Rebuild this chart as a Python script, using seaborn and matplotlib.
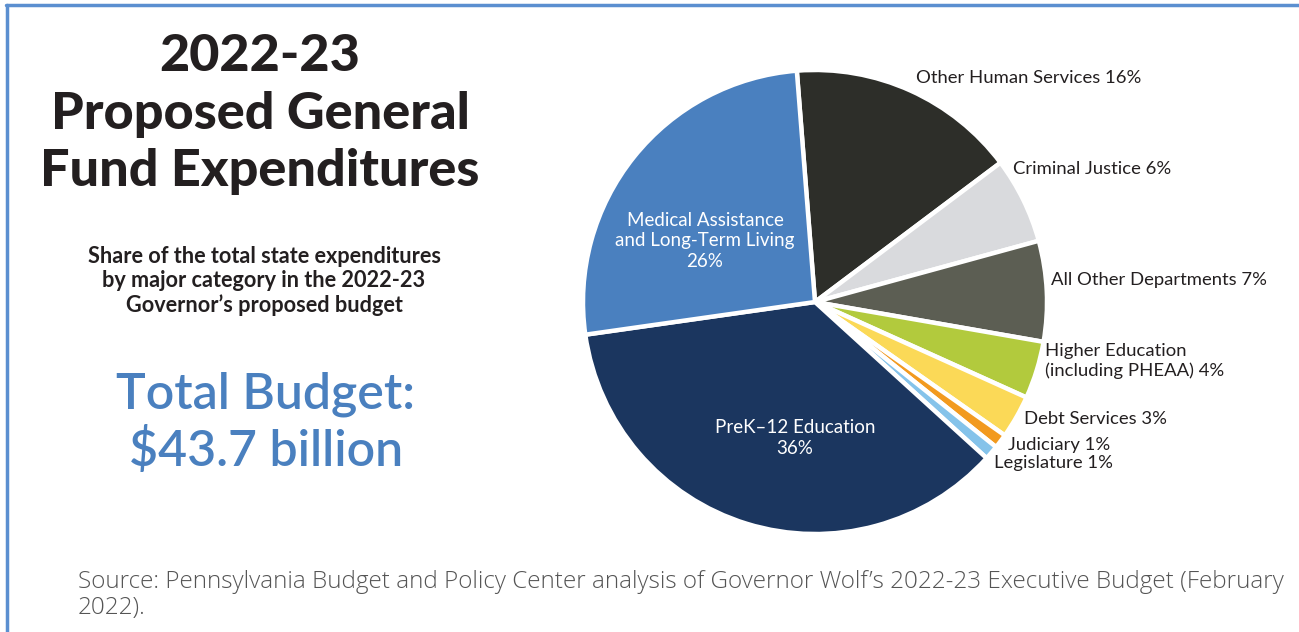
import matplotlib
matplotlib.use("Agg")
import matplotlib.pyplot as plt
from matplotlib.lines import Line2D
import seaborn as sns

sns.set_theme(style="white")
plt.rcParams["font.family"] = ["Lato", "DejaVu Sans"]

# Spending categories, clockwise from the top of the pie
categories = [
    "Other Human Services",
    "Criminal Justice",
    "All Other Departments",
    "Higher Education\n(including PHEAA)",
    "Debt Services",
    "Judiciary",
    "Legislature",
    "PreK\u201312 Education",
    "Medical Assistance\nand Long-Term Living",
]
shares = [16, 6, 7, 4, 3, 1, 1, 36, 26]
colors = ["#2d2e29", "#d9dadd", "#5c5e53", "#b2ca3d", "#fbd957",
          "#f29a1f", "#85c3ea", "#1b365f", "#4a80bf"]

# label placement (data units around a unit-radius pie)
label_pos = [
    (0.435, 0.966, "left"),
    (0.853, 0.573, "left"),
    (1.017, 0.095, "left"),
    (0.991, -0.254, "left"),
    (0.901, -0.504, "left"),
    (0.832, -0.616, "left"),
    (0.772, -0.694, "left"),
    (-0.086, -0.586, "center"),
    (-0.474, 0.263, "center"),
]
inside = [False, False, False, False, False, False, False, True, True]

fig = plt.figure(figsize=(12.99, 6.32), dpi=100)
fig.patch.set_facecolor("white")

ax = fig.add_axes([583 / 1299, (632 - 534) / 632, 464 / 1299, 464 / 632])
ax.pie(shares, colors=colors, startangle=94.5, counterclock=False,
       wedgeprops=dict(edgecolor="white", linewidth=3.2))
ax.set_xlim(-1, 1)
ax.set_ylim(-1, 1)
ax.set_aspect("equal")
ax.axis("off")

for cat, val, (x, y, ha), ins in zip(categories, shares, label_pos, inside):
    if ins:
        ax.text(x, y, f"{cat}\n{val}%", ha="center", va="center",
                color="white", fontsize=13.5, linespacing=1.27, clip_on=False)
    else:
        ax.text(x, y, f"{cat} {val}%", ha=ha, va="center",
                color="#231f20", fontsize=13.3, linespacing=1.25, clip_on=False)

# Heading block on the left
fig.text(260 / 1299, 1 - 114 / 632,
         "2022-23\nProposed General\nFund Expenditures",
         ha="center", va="center", fontsize=37.5, fontweight="black",
         color="#231f20", linespacing=1.27)
fig.text(264 / 1299, 1 - 281 / 632,
         "Share of the total state expenditures\nby major category in the 2022-23\nGovernor\u2019s proposed budget",
         ha="center", va="center", fontsize=15.6, fontweight="bold",
         color="#231f20", linespacing=1.2)
fig.text(266 / 1299, 1 - 423 / 632,
         "Total Budget:\n$43.7 billion",
         ha="center", va="center", fontsize=36, fontweight="semibold",
         color="#4a80bf", linespacing=1.22)

fig.text(78 / 1299, 1 - 595 / 632,
         "Source: Pennsylvania Budget and Policy Center analysis of Governor Wolf\u2019s 2022-23 Executive Budget (February\n2022).",
         ha="left", va="center", fontsize=17.45, fontweight="light",
         color="#555555", linespacing=1.14, family=["Open Sans", "DejaVu Sans"])

# Frame rules along the top and left edges
fig.add_artist(Line2D([6 / 1299, 1], [1 - 5 / 632, 1 - 5 / 632],
                      color="#5b8fd0", linewidth=2.5, transform=fig.transFigure))
fig.add_artist(Line2D([7 / 1299, 7 / 1299], [0, 1 - 5 / 632],
                      color="#5b8fd0", linewidth=2.5, transform=fig.transFigure))

fig.savefig("out.png", dpi=100, facecolor="white")
